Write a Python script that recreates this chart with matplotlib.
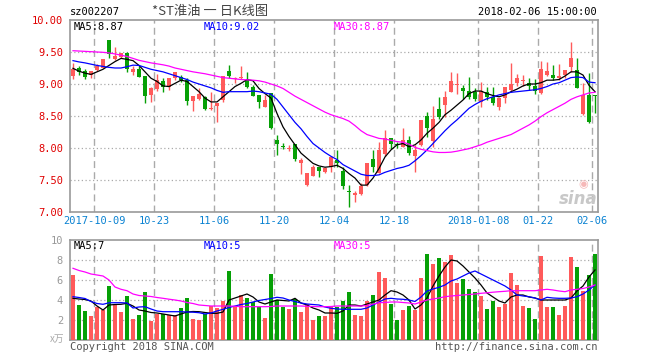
import matplotlib
matplotlib.use("Agg")
import matplotlib.pyplot as plt
import numpy as np

# daily K-line for sz002207, 88 trading days
opens = [
    9.13, 9.245, 9.20, 9.14, 9.22, 9.255, 9.69, 9.39, 9.427, 9.49,
    9.18, 9.235, 9.125, 8.83, 8.92, 9.04, 8.96, 9.10, 9.115, 9.06,
    8.74, 8.77, 8.79, 8.61, 8.66, 8.75, 9.21, 9.075, 9.09, 9.06,
    8.95, 8.83, 8.635, 8.854, 8.12, 8.03, 7.98, 8.07, 7.77, 7.42,
    7.57, 7.70, 7.63, 7.70, 7.82, 7.64, 7.33, 7.26, 7.28, 7.42,
    7.83, 7.615, 7.90, 8.15, 8.05, 8.02, 8.125, 7.88, 8.04, 8.50,
    8.11, 8.61, 8.67, 8.88, 8.99, 8.93, 8.89, 8.87, 8.72, 8.87,
    8.80, 8.64, 8.775, 8.906, 9.02, 9.04, 9.01, 8.97, 8.86, 9.14,
    9.14, 9.10, 9.14, 9.27, 9.22, 8.53, 8.83, 8.83,
]
highs = [
    9.33, 9.28, 9.23, 9.21, 9.32, 9.39, 9.69, 9.58, 9.49, 9.50,
    9.28, 9.28, 9.125, 8.95, 9.16, 9.09, 9.10, 9.18, 9.135, 9.09,
    8.82, 8.93, 8.82, 8.88, 8.71, 9.13, 9.30, 9.11, 9.28, 9.18,
    8.99, 8.83, 8.83, 8.854, 8.20, 8.08, 8.05, 8.07, 7.85, 7.615,
    7.73, 7.71, 7.70, 7.88, 7.97, 7.71, 7.42, 7.33, 7.46, 7.77,
    7.97, 8.10, 8.28, 8.16, 8.10, 8.32, 8.19, 8.04, 8.43, 8.57,
    8.65, 8.79, 8.89, 9.18, 9.17, 8.98, 9.11, 8.93, 9.03, 8.96,
    8.95, 8.775, 8.95, 9.33, 9.16, 9.14, 9.09, 9.08, 9.36, 9.35,
    9.30, 9.31, 9.22, 9.66, 9.40, 9.01, 9.17, 8.83,
]
lows = [
    9.08, 9.14, 9.08, 9.10, 9.21, 9.25, 9.41, 9.375, 9.41, 9.19,
    9.14, 9.115, 8.70, 8.72, 8.89, 8.88, 8.91, 9.06, 9.035, 8.67,
    8.58, 8.75, 8.59, 8.60, 8.40, 8.72, 9.09, 9.01, 9.08, 8.93,
    8.82, 8.63, 8.635, 8.29, 7.89, 7.98, 7.95, 7.80, 7.59, 7.41,
    7.57, 7.55, 7.61, 7.62, 7.70, 7.36, 7.08, 7.15, 7.27, 7.40,
    7.63, 7.61, 7.88, 7.98, 8.00, 8.01, 7.89, 7.63, 8.03, 8.17,
    8.02, 8.46, 8.49, 8.88, 8.84, 8.77, 8.77, 8.74, 8.64, 8.75,
    8.67, 8.60, 8.70, 8.88, 8.97, 8.97, 8.90, 8.85, 8.85, 9.13,
    9.06, 9.06, 9.10, 9.19, 8.94, 8.51, 8.39, 8.55,
]
closes = [
    9.23, 9.18, 9.115, 9.20, 9.286, 9.39, 9.47, 9.44, 9.49, 9.235,
    9.235, 9.115, 8.82, 8.935, 9.07, 8.96, 9.10, 9.18, 9.07, 8.74,
    8.82, 8.85, 8.61, 8.63, 8.71, 9.13, 9.13, 9.09, 9.115, 8.96,
    8.82, 8.72, 8.75, 8.307, 8.07, 8.02, 8.00, 7.83, 7.81, 7.615,
    7.71, 7.645, 7.68, 7.865, 7.76, 7.40, 7.31, 7.30, 7.40, 7.77,
    7.71, 7.97, 8.15, 8.07, 8.04, 8.125, 7.92, 7.97, 8.43, 8.31,
    8.46, 8.48, 8.79, 9.05, 9.00, 8.89, 8.80, 8.77, 8.895, 8.79,
    8.71, 8.775, 8.95, 9.00, 9.09, 9.06, 8.97, 8.89, 9.23, 9.21,
    9.10, 9.13, 9.22, 9.41, 8.94, 8.83, 8.40, 8.82,
]
volumes = [
    6.5, 3.5, 2.9, 2.4, 3.3, 3.0, 5.4, 3.6, 2.8, 4.4,
    2.1, 2.5, 4.8, 1.9, 2.6, 2.6, 2.5, 2.5, 3.2, 4.2,
    2.1, 2.0, 2.6, 3.4, 3.2, 3.9, 6.9, 3.3, 4.5, 4.2,
    3.8, 3.3, 2.2, 6.6, 4.0, 3.3, 3.1, 4.1, 2.8, 3.6,
    2.0, 2.4, 2.4, 3.4, 3.3, 3.9, 4.8, 2.5, 2.4, 3.9,
    4.5, 6.8, 6.2, 3.6, 2.0, 3.0, 3.4, 3.0, 6.2, 8.6,
    7.6, 8.2, 7.8, 8.5, 5.7, 6.1, 5.1, 4.8, 4.4, 3.1,
    3.9, 3.3, 3.6, 6.7, 5.5, 3.4, 3.2, 2.1, 8.4, 3.3,
    3.3, 2.5, 3.4, 8.3, 7.3, 4.9, 6.5, 8.6,
]

# moving averages as drawn on the picture
ma5 = [
    9.245, 9.20, 9.17, 9.15, 9.19, 9.23, 9.29, 9.35, 9.40, 9.385,
    9.365, 9.29, 9.19, 9.09, 9.04, 8.97, 8.96, 9.01, 9.06, 9.04,
    8.96, 8.88, 8.78, 8.72, 8.72, 8.80, 8.88, 8.96, 9.01, 9.07,
    9.05, 8.93, 8.85, 8.78, 8.54, 8.33, 8.18, 8.05, 7.92, 7.84,
    7.76, 7.72, 7.70, 7.71, 7.73, 7.68, 7.60, 7.53, 7.42, 7.42,
    7.53, 7.68, 7.86, 7.97, 8.05, 8.07, 8.02, 8.05, 8.125, 8.23,
    8.31, 8.40, 8.52, 8.59, 8.67, 8.75, 8.85, 8.89, 8.89, 8.85,
    8.82, 8.80, 8.83, 8.88, 8.92, 8.97, 9.00, 9.00, 9.02, 9.06,
    9.06, 9.07, 9.125, 9.19, 9.19, 9.14, 8.98, 8.88,
]
ma10 = [
    9.365, 9.345, 9.33, 9.31, 9.29, 9.275, 9.26, 9.25, 9.25, 9.27,
    9.295, 9.29, 9.26, 9.23, 9.21, 9.19, 9.16, 9.13, 9.10, 9.07,
    9.03, 9.00, 8.97, 8.94, 8.90, 8.87, 8.88, 8.88, 8.88, 8.88,
    8.89, 8.88, 8.86, 8.84, 8.76, 8.64, 8.52, 8.40, 8.30, 8.18,
    8.07, 8.00, 7.93, 7.87, 7.82, 7.74, 7.69, 7.64, 7.59, 7.57,
    7.57, 7.58, 7.62, 7.65, 7.68, 7.70, 7.73, 7.80, 7.88, 7.97,
    8.07, 8.17, 8.27, 8.36, 8.44, 8.53, 8.62, 8.68, 8.73, 8.77,
    8.80, 8.83, 8.85, 8.87, 8.88, 8.89, 8.90, 8.91, 8.93, 8.96,
    9.00, 9.02, 9.06, 9.10, 9.11, 9.10, 9.03, 9.02,
]
ma30 = [
    9.52, 9.515, 9.51, 9.505, 9.50, 9.495, 9.485, 9.47, 9.45, 9.43,
    9.40, 9.37, 9.35, 9.33, 9.315, 9.30, 9.28, 9.25, 9.23, 9.21,
    9.19, 9.175, 9.16, 9.14, 9.12, 9.10, 9.09, 9.08, 9.07, 9.065,
    9.06, 9.05, 9.03, 9.00, 8.97, 8.93, 8.87, 8.81, 8.76, 8.71,
    8.66, 8.61, 8.56, 8.52, 8.49, 8.46, 8.42, 8.35, 8.27, 8.21,
    8.18, 8.15, 8.14, 8.12, 8.10, 8.09, 8.06, 8.01, 7.98, 7.96,
    7.94, 7.93, 7.93, 7.935, 7.95, 7.97, 7.99, 8.02, 8.05, 8.09,
    8.12, 8.15, 8.18, 8.21, 8.26, 8.31, 8.36, 8.42, 8.49, 8.55,
    8.60, 8.65, 8.70, 8.76, 8.80, 8.83, 8.86, 8.87,
]
vol_ma5 = [
    4.17, 4.1, 4.05, 3.9, 3.4, 3.0, 3.5, 3.55, 3.57, 3.67,
    3.4, 3.0, 2.9, 2.75, 2.7, 2.6, 2.5, 2.4, 2.6, 2.8,
    2.85, 2.83, 2.75, 2.67, 2.67, 2.8, 4.0, 4.2, 4.4, 4.6,
    4.3, 3.8, 3.6, 3.8, 4.0, 3.95, 3.9, 4.17, 3.7, 3.5,
    3.2, 3.0, 2.7, 2.7, 2.67, 2.9, 3.5, 3.5, 3.4, 3.6,
    3.8, 4.0, 4.5, 4.93, 4.8, 4.5, 4.0, 3.1, 3.5, 4.2,
    5.4, 6.4, 7.3, 8.0, 7.9, 7.4, 6.8, 6.2, 5.5, 4.7,
    4.3, 3.9, 3.7, 4.3, 4.5, 4.5, 4.3, 4.2, 4.0, 4.0,
    4.0, 4.0, 4.0, 4.2, 4.9, 5.4, 6.3, 7.0,
]
vol_ma10 = [
    4.33, 4.25, 4.15, 3.85, 3.65, 3.57, 3.72, 3.73, 3.73, 3.7,
    3.2, 3.3, 3.33, 3.1, 2.9, 2.83, 2.83, 2.83, 2.83, 2.8,
    2.78, 2.73, 2.6, 2.7, 2.9, 3.07, 3.25, 3.4, 3.55, 3.65,
    3.8, 3.95, 4.05, 4.15, 4.27, 4.2, 4.0, 3.85, 3.7, 3.6,
    3.55, 3.5, 3.3, 3.17, 3.1, 3.07, 3.07, 3.07, 3.07, 3.2,
    3.5, 3.8, 4.1, 4.17, 4.1, 4.07, 4.0, 3.85, 4.3, 4.9,
    5.1, 5.27, 5.5, 5.9, 6.1, 6.4, 6.7, 6.9, 6.6, 6.3,
    6.0, 5.7, 5.4, 5.0, 4.5, 4.4, 4.33, 4.2, 4.0, 4.27,
    4.2, 4.17, 4.17, 4.2, 4.33, 4.6, 5.0, 5.5,
]
vol_ma30 = [
    7.17, 6.95, 6.8, 6.6, 6.5, 6.4, 6.0, 5.3, 5.07, 4.93,
    4.6, 4.45, 4.4, 4.35, 4.25, 4.17, 4.08, 4.0, 3.9, 3.75,
    3.65, 3.5, 3.45, 3.4, 3.4, 3.4, 3.4, 3.37, 3.33, 3.33,
    3.33, 3.33, 3.33, 3.35, 3.4, 3.4, 3.4, 3.4, 3.4, 3.37,
    3.35, 3.33, 3.33, 3.35, 3.4, 3.4, 3.4, 3.4, 3.4, 3.45,
    3.6, 3.73, 3.75, 3.8, 3.8, 3.75, 3.7, 3.6, 3.8, 4.0,
    4.1, 4.2, 4.33, 4.4, 4.45, 4.5, 4.55, 4.6, 4.67, 4.72,
    4.78, 4.83, 4.87, 4.93, 4.93, 4.93, 4.93, 4.93, 5.0, 5.07,
    5.0, 4.9, 4.83, 5.0, 5.07, 5.15, 5.3, 5.5,
]

date_idx = [4, 14, 24, 34, 44, 54, 68, 78, 87]
date_labels = ["2017-10-09", "10-23", "11-06", "11-20", "12-04", "12-18",
               "2018-01-08", "01-22", "02-06"]
price_ticks = [7.0, 7.5, 8.0, 8.5, 9.0, 9.5, 10.0]
vol_ticks = [2, 4, 6, 8, 10]

RED = "#ff5a5a"
GREEN = "#06a006"
GRID = "#aaaaaa"
MONO = "DejaVu Sans Mono"
CJK = ["Noto Sans CJK SC", "DejaVu Sans"]

W, H = 660, 360


def fx(x):
    return x / W


def fy(y):
    return 1 - y / H


fig = plt.figure(figsize=(6.6, 3.6), dpi=100)
fig.patch.set_facecolor("white")

ax = fig.add_axes([fx(70), fy(212), 528 / W, 192 / H])
axv = fig.add_axes([fx(70), fy(340), 528 / W, 100 / H])

x = np.arange(len(closes))
colors = [RED if c >= o else GREEN for o, c in zip(opens, closes)]

# candles
ax.vlines(x, lows, highs, colors=colors, lw=1.0, zorder=3)
body_bottom = [min(o, c) for o, c in zip(opens, closes)]
body_h = [max(abs(c - o), 0.015) for o, c in zip(opens, closes)]
ax.bar(x, body_h, bottom=body_bottom, width=0.8, color=colors, lw=0,
       antialiased=False, zorder=3)

ax.plot(x, ma5, color="black", lw=0.9, zorder=4)
ax.plot(x, ma10, color="#0000ff", lw=0.9, zorder=4)
ax.plot(x, ma30, color="#ff00ff", lw=0.9, zorder=4)

# volume
axv.bar(x, volumes, width=0.8, color=colors, lw=0, antialiased=False, zorder=3)
axv.plot(x, vol_ma5, color="black", lw=0.9, zorder=4)
axv.plot(x, vol_ma10, color="#0000ff", lw=0.9, zorder=4)
axv.plot(x, vol_ma30, color="#ff00ff", lw=0.9, zorder=4)

for a, lo, hi, grid_vals in [(ax, 7.0, 10.0, price_ticks[1:-1]), (axv, 0, 10, vol_ticks[:-1])]:
    a.set_xlim(-0.5, len(closes) - 0.5)
    a.set_ylim(lo, hi)
    for g in grid_vals:
        a.axhline(g, color=GRID, lw=0.9, ls=(0, (1, 2)), zorder=1)
    for d in date_idx:
        a.axvline(d - 0.42, color=GRID, lw=1.0, ls=(0, (5, 3)), zorder=1)
    for s in a.spines.values():
        s.set_color("#999999")
        s.set_linewidth(1.2)
    a.tick_params(length=0)

ax.set_yticks(price_ticks)
ax.set_yticklabels([f"{v:.2f}" for v in price_ticks], family=MONO, fontsize=7.5, color="#e00000")
ax.tick_params(axis="y", pad=5)
ax.set_xticks([d - 0.42 for d in date_idx])
ax.set_xticklabels(date_labels, family=MONO, fontsize=7.5, color="#0a82d2")
ax.tick_params(axis="x", pad=3)

axv.set_yticks(vol_ticks)
axv.set_yticklabels([str(v) for v in vol_ticks], family=MONO, fontsize=7.5, color="#999999")
axv.tick_params(axis="y", pad=5)
axv.set_xticks([])

# header and labels
fig.text(fx(70), fy(12), "sz002207", family=MONO, fontsize=7.5, ha="left", va="center")
fig.text(fx(210), fy(12), "*ST淮油 一 日K线图", family=CJK, fontsize=9.5, color="#444444",
         ha="center", va="center")
fig.text(fx(597), fy(12), "2018-02-06 15:00:00", family=MONO, fontsize=7.5, ha="right", va="center")

fig.text(fx(74), fy(27), "MA5:8.87", family=MONO, fontsize=7.5, color="black", va="center")
fig.text(fx(204), fy(27), "MA10:9.02", family=MONO, fontsize=7.5, color="#0000ff", va="center")
fig.text(fx(334), fy(27), "MA30:8.87", family=MONO, fontsize=7.5, color="#ff00ff", va="center")

fig.text(fx(74), fy(246), "MA5:7", family=MONO, fontsize=7.5, color="black", va="center")
fig.text(fx(204), fy(246), "MA10:5", family=MONO, fontsize=7.5, color="#0000ff", va="center")
fig.text(fx(334), fy(246), "MA30:5", family=MONO, fontsize=7.5, color="#ff00ff", va="center")

fig.text(fx(64), fy(339), "x万", family=CJK, fontsize=7, color="#aaaaaa", style="italic",
         ha="right", va="center")
fig.text(fx(70), fy(347), "Copyright 2018 SINA.COM", family=MONO, fontsize=7.5,
         color="#555555", ha="left", va="center")
fig.text(fx(597), fy(347), "http://finance.sina.com.cn", family=MONO, fontsize=7.5,
         color="#555555", ha="right", va="center")

# sina watermark
fig.text(fx(578), fy(199), "sina", fontsize=12, weight="bold", style="italic",
         color="#c8c8c8", ha="center", va="center")
fig.text(fx(583), fy(184), "◉", fontsize=8, color="#f6b8b8", ha="center", va="center")

fig.savefig("out.png", dpi=100)
